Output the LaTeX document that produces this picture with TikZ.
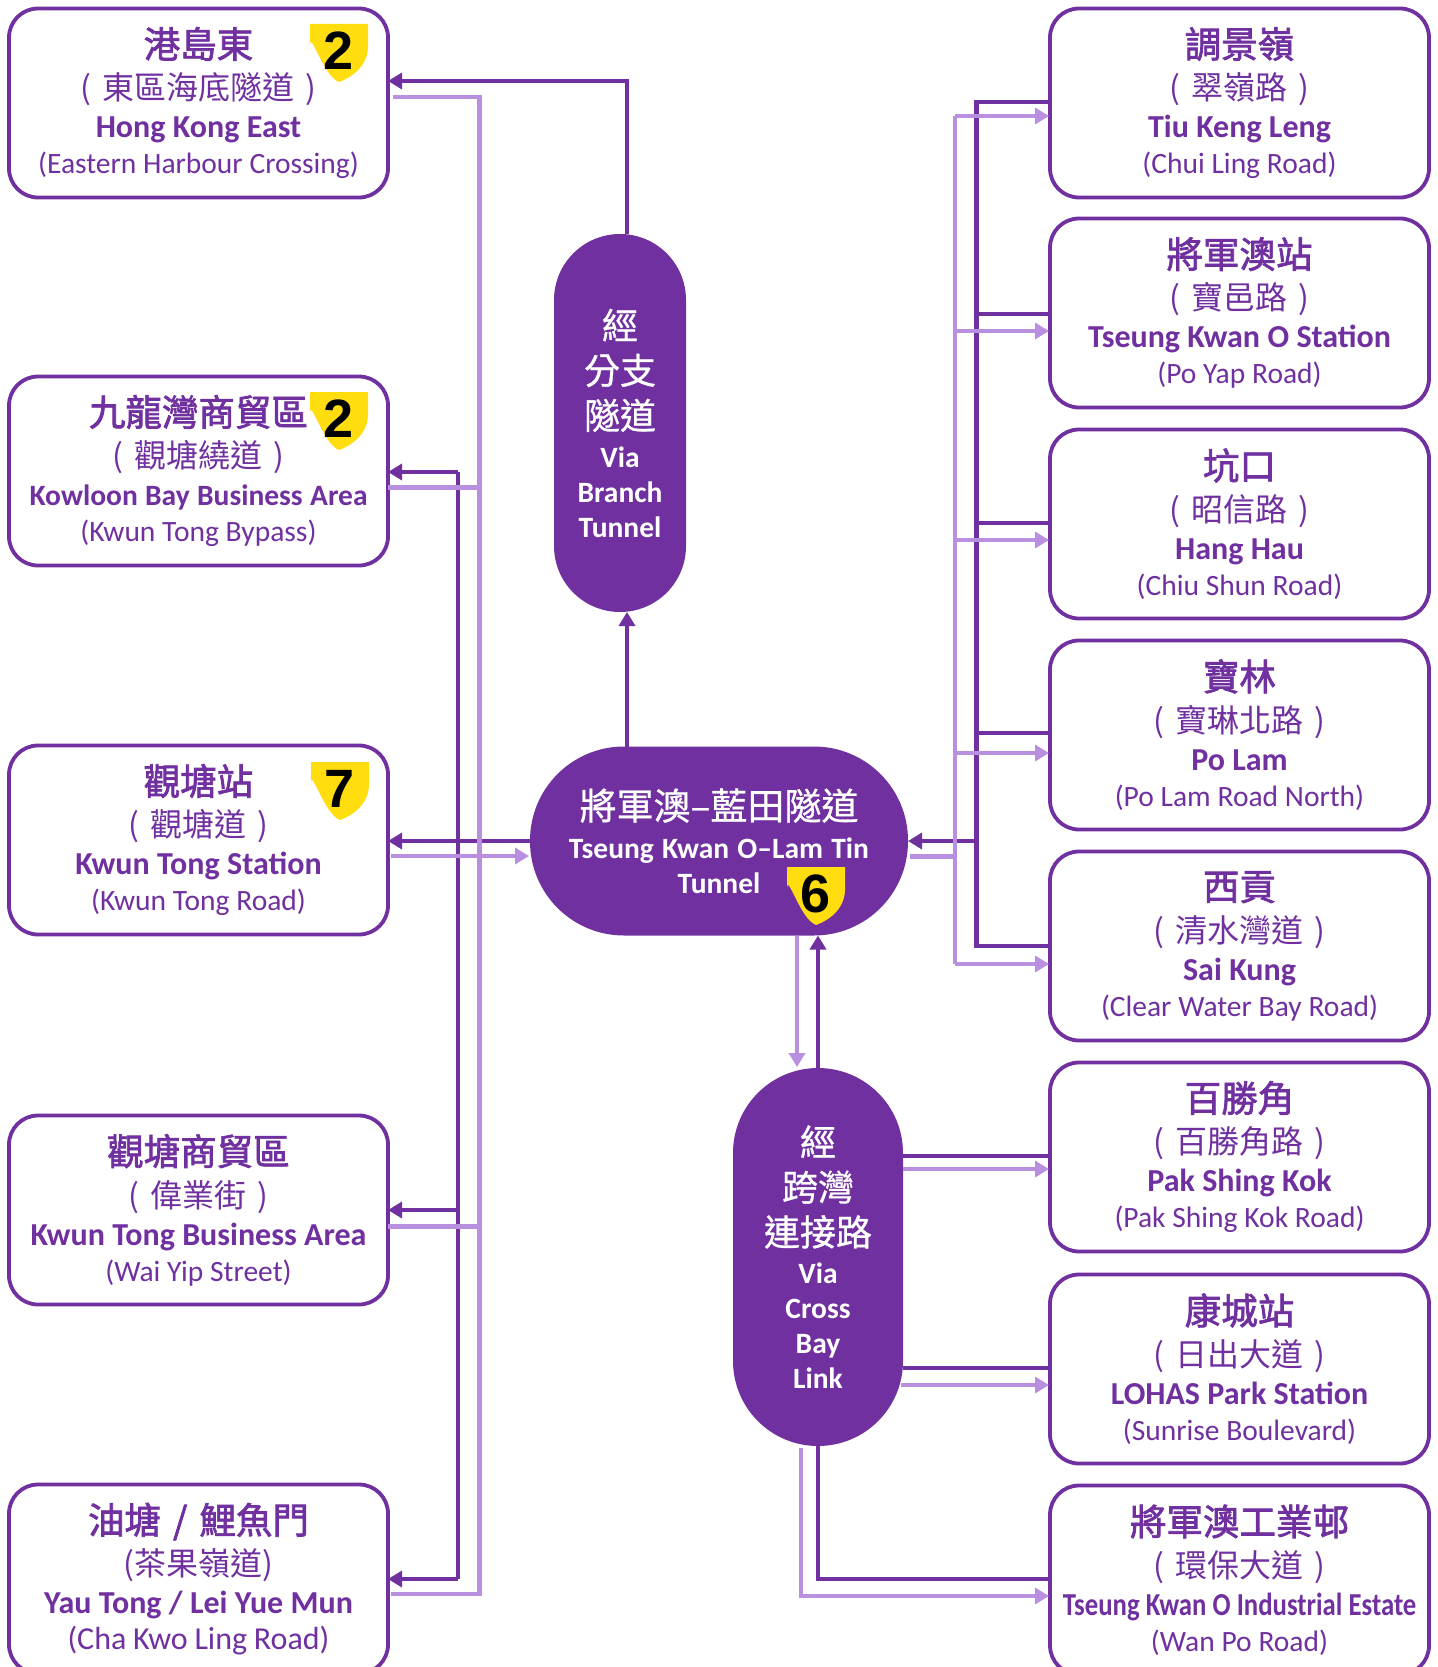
\documentclass[tikz,border=0pt]{standalone}
\usepackage{graphicx}
\usepackage{fontspec}
\setmainfont{Carlito}
\newfontfamily\cjk{Noto Sans CJK TC}
\newfontfamily\cjkt{Noto Sans CJK TC}[FakeBold=2]
\newfontfamily\cjkp{Noto Sans CJK TC}[FakeBold=0.8]
\newfontfamily\shieldfont{Liberation Sans}
\usetikzlibrary{arrows.meta,calc}
\definecolor{dk}{HTML}{7030A0}
\definecolor{lt}{HTML}{B98FE0}
\definecolor{shieldy}{HTML}{FFDD0E}
\lineskiplimit=-100pt
\newcommand\fa{\fontsize{36.5}{42}\selectfont\cjkt\spaceskip=.33em\relax}
\newcommand\fb{\fontsize{32}{42}\selectfont\cjk\mdseries\spaceskip=.34em\relax}
\newcommand\fc{\fontsize{32}{38}\selectfont\rmfamily\bfseries\spaceskip=.23em\relax}
\newcommand\fd{\fontsize{29.5}{36}\selectfont\rmfamily\mdseries\spaceskip=.23em\relax}
\newcommand\dest[7]{\node[destbox] (#1) at (#2,#3) {\fa #4\par\fb #5\par\fc #6\par\fd #7\par};}
\newcommand\pa{\fontsize{36}{45}\selectfont\cjkp}
\newcommand\pb{\fontsize{29.5}{35}\selectfont\rmfamily\bfseries\spaceskip=.23em\relax}
\newcommand\pv[1]{\fontsize{29.5}{#1}\selectfont\rmfamily\bfseries\spaceskip=.28em\relax}
\newcommand\shieldmark[4]{%
  \fill[shieldy] (#2,#3) -- ++(58,0) -- ++(0,22) .. controls ++(0,18) and ++(16,-6) .. ++(-29,36) .. controls ++(-16,-6) and ++(0,-18) .. ++(-29,-36) -- cycle;
  \node[shieldnum] (#1) at (#2+29,#3+26.5) {#4};}
\tikzset{
  destbox/.style={draw=dk,fill=white,line width=3.8pt,rounded corners=29pt,minimum width=379pt,minimum height=189pt,inner sep=0pt,outer sep=0pt,text width=372pt,align=center,text=dk},
  pill/.style={fill=dk,inner sep=0pt,outer sep=0pt,text=white,align=center},
  shieldnum/.style={inner sep=0pt,font=\shieldfont\bfseries\fontsize{54}{54}\selectfont,text=black},
  dline/.style={draw=dk,line width=4.2pt,line join=miter},
  lline/.style={draw=lt,line width=4.2pt,line join=miter},
  lstub/.style={draw=lt,line width=5pt},
  darr/.style={dline,-{Triangle[length=14pt,width=16pt]}},
  larr/.style={lline,-{Triangle[length=14pt,width=16pt]},shorten >=1pt},
}
\begin{document}
\begin{tikzpicture}[x=1pt,y=-1pt]
\useasboundingbox (0,0) rectangle (1437,1667);
\clip (0,0) rectangle (1437,1667);
% left destinations
\dest{a}{198.5}{103}{港島東}{( 東區海底隧道 )}{Hong Kong East}{(Eastern Harbour Crossing)}
\dest{b}{198.5}{471}{九龍灣商貿區}{( 觀塘繞道 )}{\fontsize{29.5}{38}\selectfont Kowloon Bay Business Area}{(Kwun Tong Bypass)}
\dest{c}{198.5}{840}{觀塘站}{( 觀塘道 )}{Kwun Tong Station}{(Kwun Tong Road)}
\dest{d}{198.5}{1210}{觀塘商貿區}{( 偉業街 )}{Kwun Tong Business Area}{(Wai Yip Street)}
\dest{e}{198.5}{1579}{油塘 / 鯉魚門}{(茶果嶺道)}{Yau Tong / Lei Yue Mun}{\fontsize{32}{36}\selectfont (Cha Kwo Ling Road)}
% right destinations
\dest{p}{1239.5}{103}{調景嶺}{( 翠嶺路 )}{Tiu Keng Leng}{(Chui Ling Road)}
\dest{q}{1239.5}{313}{將軍澳站}{( 寶邑路 )}{Tseung Kwan O Station}{(Po Yap Road)}
\dest{r}{1239.5}{524}{坑口}{( 昭信路 )}{Hang Hau}{(Chiu Shun Road)}
\dest{s}{1239.5}{735}{寶林}{( 寶琳北路 )}{Po Lam}{(Po Lam Road North)}
\dest{t}{1239.5}{946}{西貢}{( 清水灣道 )}{Sai Kung}{(Clear Water Bay Road)}
\dest{u}{1239.5}{1157}{百勝角}{( 百勝角路 )}{Pak Shing Kok}{(Pak Shing Kok Road)}
\dest{v}{1239.5}{1369}{康城站}{( 日出大道 )}{LOHAS Park Station}{(Sunrise Boulevard)}
\dest{w}{1239.5}{1580}{將軍澳工業邨}{( 環保大道 )}{\scalebox{0.835}[1]{Tseung Kwan O Industrial Estate}}{(Wan Po Road)}
% pills
\node[pill,rounded corners=66pt,minimum width=132pt,minimum height=378pt,text width=130pt] (branch) at (620,423) {\pa 經\par 分支\par 隧道\par\pv{38}Via\par\pb Branch\par Tunnel\par};
\node[pill,rounded corners=94pt,minimum width=378pt,minimum height=189pt,text width=370pt] (main) at (719,841) {\fontsize{37}{45}\selectfont\cjkp 將軍澳–藍田隧道\par\pv{38.5}Tseung Kwan O–Lam Tin\par\pb Tunnel\par};
\node[pill,rounded corners=85pt,minimum width=170pt,minimum height=378pt,text width=168pt] (cross) at (818,1257) {\pa 經\par 跨灣\par 連接路\par\pv{38}Via\par\pb Cross\par Bay\par Link\par};
% shields
\shieldmark{sa}{310}{24}{2}
\shieldmark{sb}{310}{392}{2}
\shieldmark{sc}{311}{762}{7}
\shieldmark{sm}{787}{867}{6}
% dark connectors
\draw[darr] (main.north -| 627,0) -- (branch.south -| 627,0);
\draw[darr] (branch.north -| 627,0) -- (627,81) -- (a.east |- 0,81);
\draw[darr] (main.west |- 0,841) -- (c.east |- 0,841);
\draw[dline] (458,841) -- (458,472);
\draw[darr] (458,472) -- (b.east |- 0,472);
\draw[dline] (458,841) -- (458,1579);
\draw[darr] (458,1210) -- (d.east |- 0,1210);
\draw[darr] (458,1579) -- (e.east |- 0,1579);
\draw[dline,line cap=rect] (976.5,102) -- (976.5,946);
\draw[dline] (976.5,102) -- (p.west |- 0,102);
\draw[dline] (976.5,314) -- (q.west |- 0,314);
\draw[dline] (976.5,523) -- (r.west |- 0,523);
\draw[dline] (976.5,733) -- (s.west |- 0,733);
\draw[dline] (976.5,946) -- (t.west |- 0,946);
\draw[darr] (976.5,841) -- (main.east |- 0,841);
\draw[darr] (cross.north -| 818,0) -- (main.south -| 818,0);
\draw[dline] (cross.east |- 0,1156) -- (u.west |- 0,1156);
\draw[dline] (cross.east |- 0,1368) -- (v.west |- 0,1368);
\draw[dline] (cross.south -| 818,0) -- (818,1579) -- (w.west |- 0,1579);
% light connectors
\draw[lline] ($(a.east |- 0,97)+(5,0)$) -- (479.5,97) -- (479.5,1594) -- ($(e.east |- 0,1594)+(3,0)$);
\draw[lstub] (b.east |- 0,487) -- (479.5,487);
\draw[lstub] (d.east |- 0,1226) -- (479.5,1226);
\draw[larr] ($(c.east |- 0,856)+(3,0)$) -- (main.west |- 0,856);
\draw[lstub] ($(main.east |- 0,856)+(2,0)$) -- (955,856);
\draw[lline] (955,116) -- (955,964);
\draw[larr] (955,116) -- (p.west |- 0,116);
\draw[larr] (955,331) -- (q.west |- 0,331);
\draw[larr] (955,540) -- (r.west |- 0,540);
\draw[larr] (955,753) -- (s.west |- 0,753);
\draw[larr] (955,964) -- (t.west |- 0,964);
\draw[larr] (main.south -| 797,0) -- (cross.north -| 797,0);
\draw[larr] (cross.east |- 0,1169) -- (u.west |- 0,1169);
\draw[larr] ($(cross.east |- 0,1385)+(-2,0)$) -- (v.west |- 0,1385);
\draw[larr] (801,1448) -- (801,1596) -- (w.west |- 0,1596);
\end{tikzpicture}
\end{document}
